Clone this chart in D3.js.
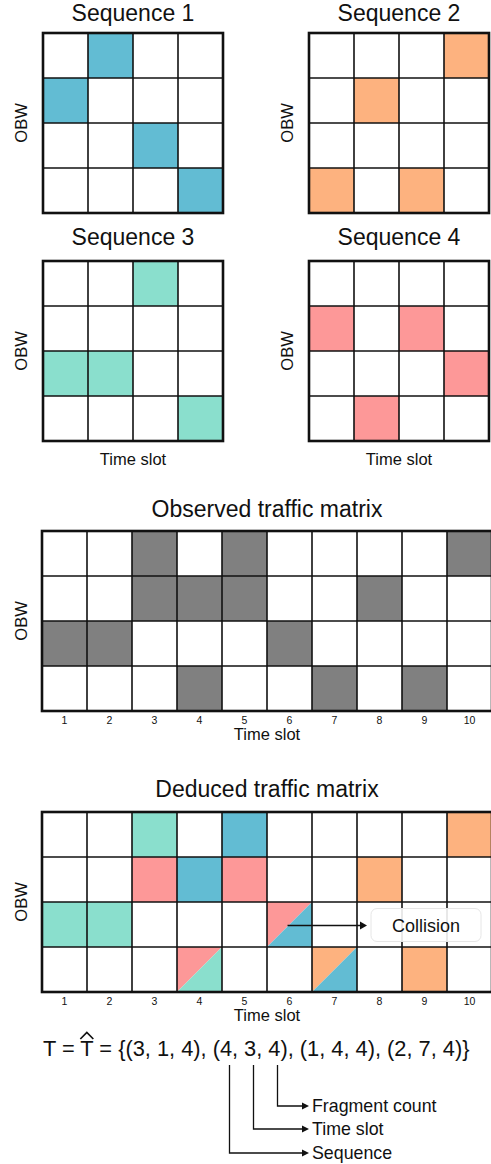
<!DOCTYPE html>
<html><head><meta charset="utf-8">
<script src="https://cdn.jsdelivr.net/npm/d3@7"></script>
<style>
html,body{margin:0;padding:0;background:#fff;}
svg{display:block;font-family:"Liberation Sans",Arial,Helvetica,sans-serif;}
</style></head>
<body>
<svg id="chart" width="491" height="1164"></svg>
<script>
// ---------- data ----------
const seqNames = ["Sequence 1", "Sequence 2", "Sequence 3", "Sequence 4"];
const seqColors = ["#62bcd3", "#fdb27f", "#8adfcd", "#fd9898"];
// occupied cells per sequence, [OBW row (1 = top), time slot]
const seq1Cells = [[1,2],[2,1],[3,3],[4,4]];
const seq2Cells = [[1,4],[2,2],[4,1],[4,3]];
const seq3Cells = [[1,3],[3,1],[3,2],[4,4]];
const seq4Cells = [[2,1],[2,3],[3,4],[4,2]];
const seqCells = [seq1Cells, seq2Cells, seq3Cells, seq4Cells];
const obwRows = [1, 2, 3, 4];
const seqSlots = [1, 2, 3, 4];
const timeSlots = [1, 2, 3, 4, 5, 6, 7, 8, 9, 10];
const observedCells = [[1,3],[1,5],[1,10],[2,3],[2,4],[2,5],[2,8],[3,1],[3,2],[3,6],[4,4],[4,7],[4,9]];
// deduced tuples: (sequence, start time slot, fragment count)
const deducedTuples = [[3,1,4],[4,3,4],[1,4,4],[2,7,4]];
const tupleLabels = ["Sequence", "Time slot", "Fragment count"];

const svg = d3.select("#chart");
const CELL = 45;
const FONT = '"Liberation Sans",Arial,Helvetica,sans-serif';

function drawGrid(g, cols, fills, opts) {
  const x = d3.scaleBand().domain(cols).range([0, cols.length * CELL]);
  const y = d3.scaleBand().domain(obwRows).range([0, obwRows.length * CELL]);
  g.append("rect").attr("x", 0).attr("y", 0)
    .attr("width", x.range()[1]).attr("height", y.range()[1]).attr("fill", "#fff");
  g.selectAll("rect.cell").data(fills.filter(d => !d.split)).join("rect")
    .attr("class", "cell")
    .attr("x", d => x(d.col)).attr("y", d => y(d.row))
    .attr("width", x.bandwidth()).attr("height", y.bandwidth())
    .attr("fill", d => d.color);
  // split cells (collisions): upper-left triangle / lower-right triangle
  fills.filter(d => d.split).forEach(d => {
    const x0 = x(d.col), y0 = y(d.row), w = x.bandwidth(), h = y.bandwidth();
    g.append("path").attr("d", `M${x0},${y0}L${x0+w},${y0}L${x0},${y0+h}Z`).attr("fill", d.colors[0]);
    g.append("path").attr("d", `M${x0+w},${y0}L${x0+w},${y0+h}L${x0},${y0+h}Z`).attr("fill", d.colors[1]);
  });
  cols.slice(1).forEach(c => {
    g.append("line").attr("x1", x(c)).attr("x2", x(c)).attr("y1", 0).attr("y2", y.range()[1])
      .attr("stroke", "#111").attr("stroke-width", 1.6);
  });
  obwRows.slice(1).forEach(r => {
    g.append("line").attr("x1", 0).attr("x2", x.range()[1]).attr("y1", y(r)).attr("y2", y(r))
      .attr("stroke", "#111").attr("stroke-width", 1.6);
  });
  g.append("rect").attr("x", 0).attr("y", 0)
    .attr("width", x.range()[1]).attr("height", y.range()[1])
    .attr("fill", "none").attr("stroke", "#111").attr("stroke-width", 2.6);
  g.append("text").attr("x", x.range()[1] / 2).attr("y", opts.titleY)
    .attr("text-anchor", "middle").attr("font-size", 23).attr("fill", "#111").text(opts.title);
  g.append("text").attr("transform", `translate(${opts.obwX},${y.range()[1] / 2}) rotate(-90)`)
    .attr("text-anchor", "middle").attr("font-size", 16.5).attr("fill", "#111").text("OBW");
  if (opts.ticks) {
    const ax = g.append("g").attr("transform", `translate(0,${y.range()[1]})`)
      .call(d3.axisBottom(x).tickSize(0).tickPadding(6));
    ax.select(".domain").remove();
    ax.selectAll("text").attr("font-size", 10.5).attr("font-family", FONT).attr("fill", "#111");
  }
  if (opts.xlabel) {
    g.append("text").attr("x", x.range()[1] / 2).attr("y", y.range()[1] + opts.xlabelDy)
      .attr("text-anchor", "middle").attr("font-size", 16.5).attr("fill", "#111").text("Time slot");
  }
  return {x, y};
}

// ---------- sequences ----------
const seqPos = [[43, 33, false], [309, 33, false], [43, 261, true], [309, 261, true]];
seqNames.forEach((name, i) => {
  const [px, py, showX] = seqPos[i];
  const g = svg.append("g").attr("transform", `translate(${px},${py})`);
  const fills = seqCells[i].map(([r, c]) => ({row: r, col: c, color: seqColors[i]}));
  drawGrid(g, seqSlots, fills, {
    title: name, titleY: i < 2 ? -12 : -16, obwX: -16,
    xlabel: showX, xlabelDy: 24
  });
});

// ---------- observed ----------
{
  const g = svg.append("g").attr("transform", "translate(42,531)");
  const fills = observedCells.map(([r, c]) => ({row: r, col: c, color: "#808080"}));
  drawGrid(g, timeSlots, fills, {title: "Observed traffic matrix", titleY: -14, obwX: -15, ticks: true, xlabel: true, xlabelDy: 28.5});
}

// ---------- deduced ----------
{
  const g = svg.append("g").attr("transform", "translate(42,812)");
  const occ = new Map();
  deducedTuples.forEach(([s, start]) => {
    seqCells[s - 1].forEach(([r, c]) => {
      const key = r + "-" + (start + c - 1);
      if (!occ.has(key)) occ.set(key, {row: r, col: start + c - 1, seqs: []});
      occ.get(key).seqs.push(s);
    });
  });
  const fills = Array.from(occ.values()).map(d => {
    if (d.seqs.length === 1) return {row: d.row, col: d.col, color: seqColors[d.seqs[0] - 1]};
    const s = d.seqs.slice().sort((a, b) => b - a);
    return {row: d.row, col: d.col, split: true, colors: s.map(k => seqColors[k - 1])};
  });
  const {x, y} = drawGrid(g, timeSlots, fills, {title: "Deduced traffic matrix", titleY: -15, obwX: -15, ticks: true, xlabel: true, xlabelDy: 28.5});
  // collision annotation
  const collision = fills.find(d => d.split && d.row === 3);
  const ay = y(collision.row) + y.bandwidth() / 2 + 1;
  const ax0 = x(collision.col) + x.bandwidth() / 2 - 2;
  const ax1 = x(8) + 10;
  g.append("line").attr("x1", ax0).attr("x2", ax1 - 6).attr("y1", ay).attr("y2", ay)
    .attr("stroke", "#111").attr("stroke-width", 1.5);
  g.append("path").attr("d", `M${ax1},${ay}L${ax1-7},${ay-4}L${ax1-7},${ay+4}Z`).attr("fill", "#111");
  const bx = ax1 + 4;
  g.append("rect").attr("x", bx).attr("y", ay - 17).attr("width", 110).attr("height", 33).attr("rx", 6)
    .attr("fill", "rgba(255,255,255,0.88)").attr("stroke", "#e6e6e6").attr("stroke-width", 1);
  g.append("text").attr("x", bx + 55).attr("y", ay + 6.5).attr("text-anchor", "middle")
    .attr("font-size", 18).attr("fill", "#111").text("Collision");
}

// ---------- formula ----------
{
  const tupleStr = deducedTuples.map(t => "(" + t.join(", ") + ")").join(", ");
  const full = "T = T = {" + tupleStr + "}";
  const base = 1056;
  const t = svg.append("text").attr("x", 43).attr("y", base).attr("font-size", 21.8)
    .attr("fill", "#111").text(full);
  const node = t.node();
  // hat over second T
  const ext = node.getExtentOfChar(4);
  const hx = ext.x + ext.width / 2;
  svg.append("path").attr("d", `M${hx-6.5},${base-17}L${hx},${base-23.5}L${hx+6.5},${base-17}`)
    .attr("fill", "none").attr("stroke", "#111").attr("stroke-width", 1.7);
  // connectors for the second tuple
  const start = full.indexOf("(" + deducedTuples[1].join(", ") + ")");
  const charIdx = [start + 1, start + 4, start + 7];
  const labelYs = [1153, 1129, 1106];
  const arrowX = 309;
  charIdx.forEach((ci, k) => {
    const e = node.getExtentOfChar(ci);
    const cx = Math.round(e.x + e.width / 2 + 3) + 0.5;
    const ly = labelYs[k];
    svg.append("path").attr("d", `M${cx},${base + 9}V${ly}H${arrowX - 6}`)
      .attr("fill", "none").attr("stroke", "#111").attr("stroke-width", 1.3);
    svg.append("path").attr("d", `M${arrowX},${ly}L${arrowX-7},${ly-3.5}L${arrowX-7},${ly+3.5}Z`).attr("fill", "#111");
    svg.append("text").attr("x", arrowX + 3).attr("y", ly + 6).attr("font-size", 17.8)
      .attr("fill", "#111").text(tupleLabels[k]);
  });
}
</script>
</body></html>
